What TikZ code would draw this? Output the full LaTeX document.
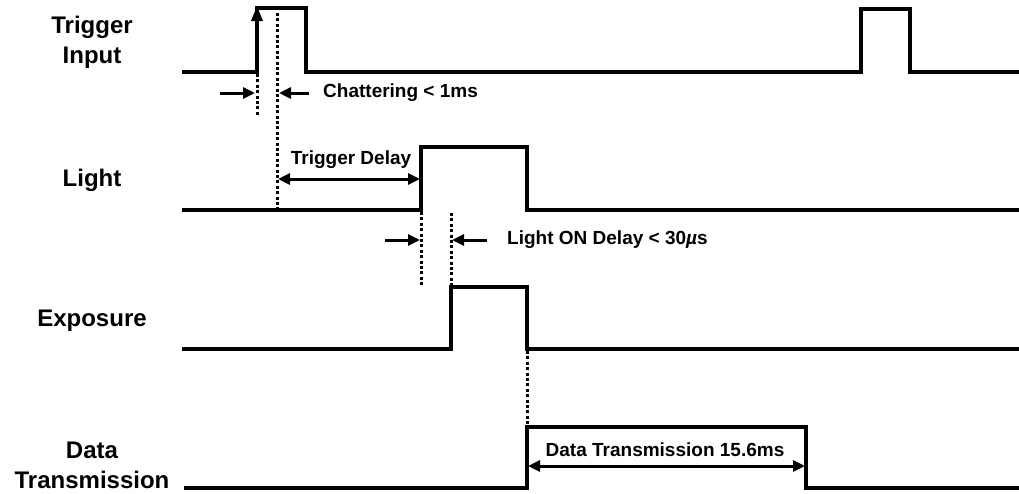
\documentclass[tikz,border=0pt]{standalone}
\usepackage{fontspec}
\setmainfont{Liberation Sans}
\usetikzlibrary{arrows.meta}
\begin{document}
\begin{tikzpicture}[x=1pt,y=-1pt,
  wave/.style={line width=3.4pt, line join=miter, line cap=rect},
  guide/.style={line width=3pt, dash pattern=on 3pt off 2.4pt},
  dim/.style={line width=3pt, -{Triangle[length=12pt,width=11pt]}},
  dimboth/.style={line width=3pt, {Triangle[length=12pt,width=11pt]}-{Triangle[length=12pt,width=11pt]}},
  sig/.style={font=\fontsize{24}{30}\selectfont\bfseries, align=center, inner sep=0pt},
  note/.style={font=\fontsize{19}{22}\selectfont\bfseries, inner sep=0pt}
]
\useasboundingbox (0,0) rectangle (1019,493);
\fill[white] (0,0) rectangle (1019,493);

% signal labels
\node[sig] (lTrig) at (92,42) {Trigger\\Input};
\node[sig] (lLight) at (92,180) {Light};
\node[sig] (lExp) at (92,321) {Exposure};
\node[sig] (lData) at (92,465) {Data\\Transmission};

% waveforms
\draw[wave] (184,72) -- (257,72) -- (257,8) -- (306,8) -- (306,72) -- (861,72) -- (861,9) -- (910,9) -- (910,72) -- (1019,72);
\draw[wave] (184,210) -- (421,210) -- (421,147) -- (527,147) -- (527,210) -- (1019,210);
\draw[wave] (184,349) -- (451,349) -- (451,287) -- (527,287) -- (527,349) -- (1019,349);
\draw[wave] (186,488) -- (527,488) -- (527,427) -- (806,427) -- (806,488) -- (1019,488);

% coordinates
\coordinate (trRise) at (257,74);
\coordinate (trRiseLo) at (257,117);
\coordinate (trArrowBase) at (257,40);
\coordinate (trArrowTip) at (257,6);
\coordinate (chTop) at (277,13);
\coordinate (chBot) at (277,210);
\coordinate (ltRise) at (421,212);
\coordinate (ltRiseLo) at (421,287);
\coordinate (exRiseHi) at (451,213);
\coordinate (exRise) at (451,287);
\coordinate (exFall) at (527,351);
\coordinate (dtRise) at (527,427);

% rising-edge arrow
\draw[line width=3.4pt, -{Triangle[length=15pt,width=11pt]}] (trArrowBase) -- (trArrowTip);

% dotted guides
\draw[guide] (trRise) -- (trRiseLo);
\draw[guide] (chTop) -- (chBot);
\draw[guide] (ltRise) -- (ltRiseLo);
\draw[guide] (exRiseHi) -- (exRise);
\draw[guide] (exFall) -- (dtRise);

% chattering
\coordinate (chA1) at (220,93);
\coordinate (chA2) at (255,93);
\coordinate (chB1) at (309,93);
\coordinate (chB2) at (279,93);
\draw[dim] (chA1) -- (chA2);
\draw[dim] (chB1) -- (chB2);
\node[note, anchor=west] (tChat) at (323,93) {Chattering < 1ms};

% trigger delay
\coordinate (tdA) at (278,179);
\coordinate (tdB) at (420,179);
\draw[dimboth] (tdA) -- (tdB);
\node[note] (tTd) at (351,160) {Trigger Delay};

% light on delay
\coordinate (loA1) at (385,240);
\coordinate (loA2) at (420,240);
\coordinate (loB1) at (487,240);
\coordinate (loB2) at (452,240);
\draw[dim] (loA1) -- (loA2);
\draw[dim] (loB1) -- (loB2);
\node[note, anchor=west] (tLo) at (507,240) {Light ON Delay < 30\textit{µ}s};

% data transmission
\coordinate (dtA) at (528,466);
\coordinate (dtB) at (805,466);
\draw[dimboth] (dtA) -- (dtB);
\node[note] (tDt) at (665,450) {Data Transmission 15.6ms};
\end{tikzpicture}
\end{document}
